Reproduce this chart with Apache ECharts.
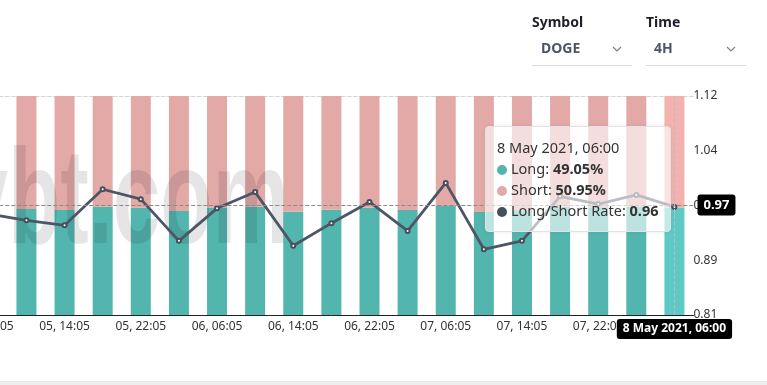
<!DOCTYPE html>
<html>
<head>
<meta charset="utf-8">
<script src="https://cdn.jsdelivr.net/npm/echarts@6/dist/echarts.min.js"></script>
<style>
  html, body { margin: 0; padding: 0; width: 767px; height: 385px; overflow: hidden; background: #fff; font-family: "Noto Sans", sans-serif; }
  #chart { position: absolute; left: -40px; top: 0; width: 807px; height: 385px; }
  .lbl { position: absolute; font-size: 14px; font-weight: bold; color: #1e1e2c; line-height: 19px; white-space: nowrap; }
  .val { position: absolute; font-size: 14px; font-weight: bold; color: #4f5566; line-height: 19px; white-space: nowrap; }
  .uline { position: absolute; height: 1px; background: #dcdcdc; width: 100px; top: 65px; }
  .chev { position: absolute; top: 45px; }
  .foot { position: absolute; left: 0; top: 381px; width: 767px; height: 4px; background: #eeeeee; border-top: 1px solid #e6e6e6; box-sizing: border-box; }
</style>
</head>
<body>
<div id="chart"></div>
<div class="lbl" style="left:532px;top:12px;">Symbol</div>
<div class="val" style="left:541px;top:38px;">DOGE</div>
<svg class="chev" style="left:612px;" width="10" height="8"><polyline points="1,2 5,6 9,2" fill="none" stroke="#7a7f8c" stroke-width="1.2"/></svg>
<div class="uline" style="left:532px;"></div>
<div class="lbl" style="left:646px;top:12px;">Time</div>
<div class="val" style="left:654px;top:38px;">4H</div>
<svg class="chev" style="left:726px;" width="10" height="8"><polyline points="1,2 5,6 9,2" fill="none" stroke="#7a7f8c" stroke-width="1.2"/></svg>
<div class="uline" style="left:646px;"></div>
<div class="foot"></div>
<script>
// ---- data ----
const categories = ["05, 06:05","05, 10:05","05, 14:05","05, 18:05","05, 22:05","06, 02:05","06, 06:05","06, 10:05","06, 14:05","06, 18:05","06, 22:05","07, 02:05","07, 06:05","07, 10:05","07, 14:05","07, 18:05","07, 22:05","08, 02:05","08, 06:00"];
const longPct  = [48.80, 48.40, 47.95, 49.45, 49.00, 47.49, 49.00, 49.45, 47.17, 48.08, 49.00, 47.95, 49.77, 47.03, 47.80, 49.40, 49.20, 49.50, 49.05];
const shortPct = [51.20, 51.60, 52.05, 50.55, 51.00, 52.51, 51.00, 50.55, 52.83, 51.92, 51.00, 52.05, 50.23, 52.97, 52.20, 50.60, 50.80, 50.50, 50.95];
const lsRate   = [0.953, 0.944, 0.937, 0.988, 0.974, 0.915, 0.961, 0.984, 0.908, 0.940, 0.970, 0.929, 0.997, 0.903, 0.915, 0.978, 0.967, 0.980, 0.963];
const yTickLabels = ["0.81", "0.89", "0.97", "1.04", "1.12"];
const rateMin = 0.81, rateMax = 1.12;

const OFF = 40;
const C_LONG = '#52b6ae', C_SHORT = '#e3a9a7', C_RATE = '#474e5c';
const C_LONG_HI = '#5ecac3', C_SHORT_HI = '#f3b2ae';
const last = categories.length - 1;

function fullTime(cat) {
  const parts = cat.split(', ');
  return parseInt(parts[0], 10) + ' May 2021, ' + parts[1];
}
function dot(c) {
  return '<span style="display:inline-block;width:10px;height:10px;border-radius:50%;background:' + c + ';margin-right:4px;vertical-align:-1px;"></span>';
}

const chart = echarts.init(document.getElementById('chart'), null, { renderer: 'canvas' });
const FONT = '"Noto Sans", sans-serif';

chart.setOption({
  animation: false,
  textStyle: { fontFamily: FONT },
  grid: { left: OFF - 32.3, right: 73.5, top: 96, bottom: 70 },
  graphic: [{
    type: 'text', z: 3, x: OFF - 92, y: 137, scaleX: 0.63,
    style: {
      text: 'bybt.com', fontSize: 136, fontWeight: 'bold', fontFamily: 'Liberation Sans',
      fill: 'rgba(0,0,0,0.1)', verticalAlign: 'top'
    }
  }],
  tooltip: {
    trigger: 'axis',
    alwaysShowContent: true,
    transitionDuration: 0,
    axisPointer: { type: 'cross' },
    backgroundColor: 'rgba(255,255,255,0.62)',
    borderColor: '#e2e2e2',
    borderWidth: 1,
    padding: [10, 11],
    extraCssText: 'border-radius:4px;box-shadow:0 0 4px rgba(0,0,0,0.08);',
    textStyle: { fontFamily: FONT, fontSize: 14, color: '#333' },
    position: function () { return [OFF + 485, 126]; },
    formatter: function (params) {
      const i = params[0].dataIndex;
      return '<div style="line-height:21px;font-size:14.5px;color:#333;">' +
        '<div>' + fullTime(categories[i]) + '</div>' +
        '<div>' + dot(C_LONG) + 'Long: <b>' + longPct[i].toFixed(2) + '%</b></div>' +
        '<div>' + dot(C_SHORT) + 'Short: <b>' + shortPct[i].toFixed(2) + '%</b></div>' +
        '<div>' + dot(C_RATE) + 'Long/Short Rate: <b>' + lsRate[i].toFixed(2) + '</b></div>' +
        '</div>';
    }
  },
  xAxis: [{
    type: 'category',
    data: categories,
    boundaryGap: true,
    axisLine: { lineStyle: { color: '#222', width: 1 } },
    axisTick: { show: false },
    axisLabel: { interval: 1, color: '#333', fontSize: 12, margin: 6, fontFamily: FONT },
    axisPointer: {
      type: 'line',
      lineStyle: { color: '#b4bccb', type: 'dashed', width: 1 },
      label: {
        show: true, backgroundColor: '#000', color: '#fff', fontWeight: 'bold', fontSize: 12,
        padding: [4, 6], borderRadius: 3, margin: 4, fontFamily: FONT,
        formatter: function (p) { return fullTime(p.value); }
      }
    }
  }, {
    type: 'category',
    data: categories,
    position: 'top',
    axisLine: { lineStyle: { color: '#d6d6d6', type: 'dashed', width: 1 } },
    axisTick: { show: false },
    axisLabel: { show: false },
    axisPointer: { show: false }
  }],
  yAxis: [{
    type: 'value', min: 0, max: 100, show: false,
    axisPointer: { show: false }
  }, {
    type: 'value', position: 'right',
    min: rateMin, max: rateMax, interval: (rateMax - rateMin) / 4,
    axisLine: { show: false },
    axisTick: { show: false },
    splitLine: { show: false },
    axisLabel: {
      color: '#333', fontSize: 12, margin: 0, fontFamily: FONT,
      formatter: function (v, idx) { return yTickLabels[idx] !== undefined ? yTickLabels[idx] : ''; }
    },
    axisPointer: {
      type: 'line',
      lineStyle: { color: '#8a8a8a', type: 'dashed', width: 1 },
      label: {
        show: true, backgroundColor: '#000', color: '#fff', fontWeight: 'bold', fontSize: 13,
        padding: [4, 6], borderRadius: 3, margin: 4, fontFamily: FONT,
        formatter: function (p) { return Number(p.value).toFixed(2); }
      }
    }
  }],
  series: [{
    name: 'Long', type: 'bar', stack: 'ls', xAxisIndex: 0, yAxisIndex: 0, barWidth: 20, z: 2,
    itemStyle: { color: C_LONG },
    emphasis: { itemStyle: { color: C_LONG_HI } },
    data: longPct.map(function (v, i) { return i === last ? { value: v, itemStyle: { color: C_LONG_HI } } : v; })
  }, {
    name: 'Short', type: 'bar', stack: 'ls', xAxisIndex: 0, yAxisIndex: 0, barWidth: 20, z: 2,
    itemStyle: { color: C_SHORT },
    emphasis: { itemStyle: { color: C_SHORT_HI } },
    data: shortPct.map(function (v, i) { return i === last ? { value: v, itemStyle: { color: C_SHORT_HI } } : v; })
  }, {
    name: 'Long/Short Rate', type: 'line', xAxisIndex: 0, yAxisIndex: 1, z: 5,
    symbol: 'emptyCircle', symbolSize: 4, showSymbol: true,
    lineStyle: { color: C_RATE, width: 2.8 },
    itemStyle: { color: C_RATE, borderWidth: 1.2 },
    emphasis: { scale: false, lineStyle: { width: 2.8 } },
    data: lsRate
  }]
});

chart.dispatchAction({ type: 'showTip', x: OFF + 674.4, y: 205 });
</script>
</body>
</html>
